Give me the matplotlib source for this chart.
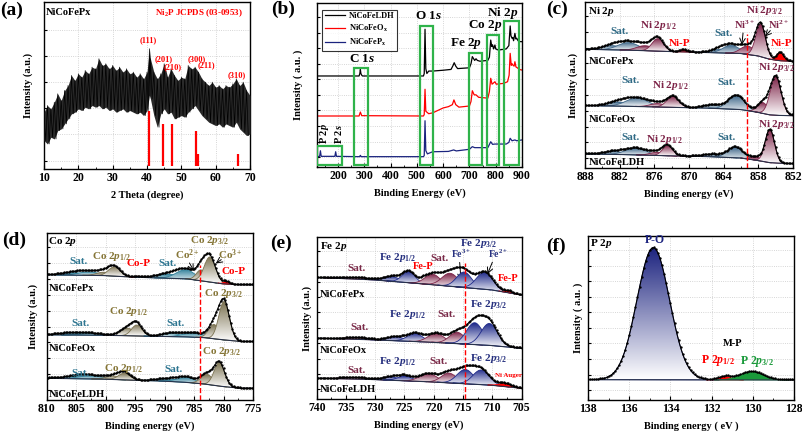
import numpy as np
import matplotlib.pyplot as plt
from matplotlib.patches import Polygon, Rectangle
from matplotlib.colors import LinearSegmentedColormap

plt.rcParams['font.family'] = ['Liberation Serif', 'DejaVu Serif']
plt.rcParams['font.weight'] = 'bold'
plt.rcParams['axes.labelweight'] = 'bold'
plt.rcParams['mathtext.fontset'] = 'custom'
plt.rcParams['mathtext.rm'] = 'Liberation Serif:bold'
plt.rcParams['mathtext.it'] = 'Liberation Serif:italic:bold'
plt.rcParams['mathtext.bf'] = 'Liberation Serif:bold'
plt.rcParams['xtick.direction'] = 'in'
plt.rcParams['ytick.direction'] = 'in'

# ---------------- (a) XRD of NiCoFePx ----------------
xrd_theta = [10, 11, 12, 13, 14, 15, 16, 17, 18, 19, 20, 21, 22, 23, 24, 25, 26, 27, 28, 29,
             30, 31, 32, 33, 34, 35, 36, 37, 38, 39, 40, 40.7, 41, 42, 43, 44, 45, 46, 47, 48, 49,
             50, 51, 52, 53, 54, 55, 56, 57, 58, 59, 60, 61, 62, 63, 64, 65, 66, 67, 68, 69, 70]
xrd_upper = [34, 38, 36, 40, 45, 41, 47, 50, 56, 53, 57, 55, 59, 57, 61, 60, 66, 62, 63, 60,
             62, 59, 61, 58, 60, 57, 58, 55, 57, 54, 58, 72, 66, 58, 54, 57, 63, 55, 60, 56, 53,
             55, 54, 62, 60, 61, 58, 54, 52, 50, 52, 49, 50, 48, 50, 49, 51, 54, 50, 52, 47, 44]
xrd_lower = [17, 15, 19, 18, 23, 24, 27, 30, 33, 34, 36, 35, 37, 36, 38, 37, 38, 36, 37, 35,
             36, 34, 35, 36, 34, 35, 34, 33, 34, 32, 35, 44, 42, 32, 25, 33, 36, 33, 34, 30, 31,
             32, 31, 34, 36, 38, 35, 32, 30, 28, 27, 26, 27, 25, 27, 26, 25, 28, 24, 22, 20, 21]
ref_pos = [40.7, 44.6, 47.3, 54.2, 54.9, 66.4]
ref_height = [33, 25, 25, 21, 7, 7]
ref_hkl = ['(111)', '(201)', '(210)', '(300)', '(211)', '(310)']

# ---------------- (b) XPS survey ----------------
ldh_E = [120, 280, 283, 285, 287, 290, 293, 525, 528, 531, 534, 538, 545, 560, 600, 630, 638, 642,
         648, 655, 700, 706, 711, 716, 720, 725, 730, 740, 770, 776, 781, 785, 788, 792, 797, 800,
         810, 840, 850, 855, 858, 862, 865, 868, 873, 877, 880, 885, 890, 900]
ldh_y = [55.5, 55.5, 57, 59.5, 57, 56, 55.5, 55.5, 57, 84, 60, 57, 58.5, 58.5, 59, 59.5, 62, 63.6,
         61.5, 60, 60.5, 63, 67.3, 66, 65, 66, 65, 64.5, 65, 67, 77.4, 73.5, 74.5, 72, 74.4, 72,
         71.3, 72, 74, 86, 80, 78.5, 79, 77, 81.5, 78, 78.5, 77, 76.5, 76.4]
ox_E = [120, 280, 285, 290, 525, 528, 531, 534, 545, 560, 600, 620, 635, 641, 648, 660, 700, 706,
        711, 718, 725, 735, 770, 776, 781, 786, 790, 797, 802, 830, 845, 851, 855, 859, 862, 866,
        870, 873, 877, 882, 890, 900]
ox_y = [31.1, 31.1, 33.5, 31.3, 31.1, 32, 47.4, 34, 32.5, 33, 36, 36.8, 38, 40.9, 38, 36.5, 37.2,
        40, 46.5, 44, 44, 42.5, 42, 46, 54.1, 50.5, 51, 52, 50.5, 51, 52, 56, 69.3, 62, 63, 62,
        61.5, 64.2, 61, 60.5, 59.5, 59.1]
px_E = [120, 130, 133, 136, 188, 191, 194, 282, 285, 288, 525, 528, 531, 534, 540, 560, 620, 640,
        650, 700, 711, 720, 770, 781, 788, 797, 840, 850, 855, 862, 873, 880, 900]
px_y = [6.3, 6.5, 9.9, 6.5, 6.5, 9.3, 6.5, 6.3, 7.1, 6.3, 6.3, 7, 28.2, 10, 8, 9.3, 9.5, 10.4,
        9.8, 10.8, 12.4, 11.8, 11.8, 15.4, 13.8, 14, 14, 15, 17.5, 16, 16.5, 16, 16.5]
survey_regions = ['P', 'C', 'O', 'Fe', 'Co', 'Ni']
region_E0 = [120, 261, 512, 698, 765, 831]
region_E1 = [217, 314, 562, 749, 812, 888]
region_top = [13, 60.5, 86, 69.7, 80.5, 89.2]

# ---------------- (c) Ni 2p : (center eV, height, sigma, kind) ----------------
ni_bg_E = [888, 880, 872, 866, 861, 858, 856, 854, 852]
ni_px_bg = [71.5, 71, 70, 69.5, 69, 67.5, 65.5, 64.5, 64.2]
ni_ox_bg = [37.6, 37.2, 36.5, 36, 35.2, 33.5, 32, 31.6, 31.5]
ni_ldh_bg = [8.5, 8.0, 7.2, 6.8, 6.0, 4.5, 3.2, 2.8, 2.6]
ni_px = [(883.3, 2.5, 1.6, 'sat'), (880.5, 4.5, 1.8, 'sat'), (877.6, 3.0, 1.4, 'main'),
         (875.4, 7.5, 1.0, 'main'), (871.0, 1.2, 0.6, 'p'), (864.8, 2.0, 1.3, 'sat'),
         (862.7, 4.8, 1.4, 'sat'), (859.8, 5.0, 1.2, 'main'), (857.6, 19.5, 0.85, 'main'),
         (854.2, 5.0, 0.6, 'p')]
ni_ox = [(882.3, 2.5, 1.7, 'sat'), (879.0, 5.0, 1.9, 'sat'), (875.4, 2.0, 1.3, 'main'),
         (872.8, 6.5, 1.05, 'main'), (866.0, 2.0, 1.5, 'sat'), (861.8, 8.5, 1.4, 'sat'),
         (857.2, 6.5, 0.9, 'main'), (855.0, 23.5, 0.95, 'main')]
ni_ldh = [(883.0, 1.8, 1.6, 'sat'), (879.2, 4.0, 1.8, 'sat'), (875.6, 1.8, 1.2, 'main'),
          (873.7, 6.0, 0.9, 'main'), (866.0, 1.5, 1.5, 'sat'), (862.0, 6.5, 1.3, 'sat'),
          (858.4, 2.0, 0.9, 'main'), (856.0, 20.0, 0.8, 'main')]

# ---------------- (d) Co 2p ----------------
co_bg_E = [810, 800, 795, 790, 786, 783, 780, 777, 775]
co_px_bg = [75, 74.5, 73.5, 73, 72.5, 71, 69.5, 69, 69]
co_ox_bg = [39, 38.8, 38.4, 38, 37.8, 37.3, 36, 35, 35]
co_ldh_bg = [13, 12.5, 11.8, 11.3, 10.5, 9.5, 8, 7, 7]
co_px = [(805.5, 1.5, 1.8, 'sat'), (802.8, 2.0, 1.8, 'sat'), (800.3, 2.0, 1.2, 'main'),
         (798.5, 5.5, 1.0, 'main'), (794.5, 0.6, 0.5, 'p'), (789.5, 2.5, 1.8, 'sat'),
         (786.4, 5.5, 1.6, 'sat'), (783.8, 6.5, 0.8, 'main'), (782.3, 15.0, 0.95, 'main'),
         (779.5, 1.5, 0.5, 'p')]
co_ox = [(806.0, 1.2, 2.0, 'sat'), (802.5, 1.0, 1.8, 'sat'), (796.3, 4.5, 1.2, 'main'),
         (794.7, 6.5, 0.9, 'main'), (789.0, 2.0, 1.5, 'sat'), (785.0, 2.5, 1.8, 'sat'),
         (781.6, 8.5, 0.9, 'main'), (779.9, 23.0, 0.9, 'main')]
co_ldh = [(805.0, 1.3, 2.0, 'sat'), (802.5, 1.8, 2.0, 'sat'), (798.5, 2.0, 1.3, 'main'),
          (796.8, 4.0, 1.0, 'main'), (789.5, 1.5, 1.8, 'sat'), (786.3, 3.0, 1.5, 'sat'),
          (782.8, 6.0, 1.0, 'main'), (780.7, 14.0, 0.9, 'main')]

# ---------------- (e) Fe 2p ----------------
fe_bg_E = [740, 730, 720, 710, 705]
fe_px_bg = [75, 73.5, 70.5, 67.3, 64.2]
fe_ox_bg = [37.5, 36.5, 35, 33, 31.3]
fe_ldh_bg = [12.8, 12, 10.5, 8.5, 6.6]
fe_px = [(733.0, 1.0, 2.0, 'sat'), (727.2, 3.0, 1.3, 'fe'), (724.3, 7.0, 1.1, 'fe'),
         (721.8, 1.2, 0.5, 'p'), (720.2, 6.5, 1.3, 'sat'), (717.2, 8.0, 1.4, 'sat'),
         (714.8, 9.5, 1.3, 'fe'), (711.3, 10.5, 1.4, 'fe'), (707.2, 1.2, 0.6, 'p')]
fe_ox = [(733.0, 1.0, 2.0, 'sat'), (726.5, 2.5, 1.4, 'fe'), (723.2, 5.0, 1.3, 'fe'),
         (719.6, 5.5, 1.4, 'sat'), (716.0, 7.0, 1.3, 'sat'), (713.0, 13.5, 1.4, 'fe'),
         (710.5, 13.5, 1.4, 'fe')]
fe_ldh = [(733.5, 1.0, 2.0, 'sat'), (727.3, 2.0, 1.3, 'fe'), (724.9, 3.0, 1.2, 'fe'),
          (720.9, 5.0, 1.5, 'sat'), (717.4, 6.0, 1.3, 'sat'), (714.6, 8.8, 1.4, 'fe'),
          (711.9, 9.0, 1.4, 'fe'), (707.8, 2.0, 1.0, 'p')]

# ---------------- (f) P 2p ----------------
p_bg_E = [138, 128]
p_bg = [12.4, 12.2]
p_comps = [(134.83, 80.5, 0.79, 'po'), (131.35, 2.0, 0.3, 'p12'), (130.05, 5.1, 0.55, 'p32')]


def rect(l, t, r, b):
    return [l / 802, 1 - b / 436, (r - l) / 802, (b - t) / 436]


def fill_peak(ax, E, base, g, color, z, gradient=True):
    m = g > 0.02
    if m.sum() < 3:
        return
    x, b, t = E[m], base[m], base[m] + g[m]
    verts = np.vstack([np.column_stack([x, t]), np.column_stack([x[::-1], b[::-1]])])
    if gradient:
        poly = Polygon(verts, closed=True, fc='none', ec=color, lw=0.6, zorder=z + 0.5)
        ax.add_patch(poly)
        cmap = LinearSegmentedColormap.from_list('g', ['white', color])
        im = ax.imshow(np.linspace(0, 1, 200).reshape(-1, 1), cmap=cmap, origin='lower',
                       aspect='auto', interpolation='bilinear', zorder=z,
                       extent=[x.min(), x.max(), b.min(), t.max()])
        im.set_clip_path(poly)
    else:
        ax.add_patch(Polygon(verts, closed=True, fc=color, ec=color, lw=0.6, zorder=z))


def draw_xps(ax, E, bg_E, bg_y, comps, colors, solid=('p', 'p12', 'p32')):
    order = np.argsort(bg_E)
    bg = np.interp(E, np.array(bg_E)[order], np.array(bg_y)[order])
    total = bg.copy()
    for i, (c, h, s, kind) in enumerate(comps):
        g = h * np.exp(-(E - c) ** 2 / (2 * s ** 2))
        total += g
        fill_peak(ax, E, bg, g, colors[kind], 3 + i, gradient=kind not in solid)
    ax.plot(E, bg, color='#28324a', lw=0.8, zorder=30)
    ax.plot(E, total, color='k', lw=0.8, zorder=31)
    ax.plot(E[::5], total[::5] + 0.4, 'k.', ms=1.4, zorder=32)


def style(ax, xlim, xmaj, xmin, ylab, lpad, xlab='Binding energy (eV)'):
    ax.set_xlim(*xlim)
    ax.set_ylim(0, 100)
    ax.set_xticks(xmaj)
    ax.set_xticks(xmin, minor=True)
    ax.set_yticks(np.arange(6, 100, 9.5))
    ax.tick_params(axis='x', labelsize=8.5, pad=2, length=3)
    ax.tick_params(axis='x', which='minor', length=1.8)
    ax.tick_params(axis='y', labelleft=False, length=2.5)
    ax.grid(True, color='#c9c9c9', ls=':', lw=0.6)
    ax.set_axisbelow(True)
    ax.set_xlabel(xlab, fontsize=7.5, labelpad=5)
    ax.set_ylabel(ylab, fontsize=7.5, labelpad=lpad)
    for sp in ax.spines.values():
        sp.set_linewidth(1.0)


def lab(ax, x, y, s, c='k', fs=8, ha='center'):
    ax.text(x, y, s, color=c, fontsize=fs, ha=ha, va='center', zorder=40)


fig = plt.figure(figsize=(8.02, 4.36), dpi=100)

# ---- (a)
ax = fig.add_axes(rect(44, 2, 250, 169))
ax.fill_between(xrd_theta, xrd_lower, xrd_upper, color='#2a2a2a', lw=0, zorder=3)
# noisy trace: alternate between the upper and lower readings
zig_x = np.ravel(np.column_stack([xrd_theta[:-1], np.array(xrd_theta[:-1]) + 0.5 * np.diff(xrd_theta)]))
zig_y = np.ravel(np.column_stack([xrd_upper[:-1], xrd_lower[:-1]]))
ax.plot(zig_x, zig_y, color='k', lw=0.5, zorder=4)
ax.vlines(ref_pos, 2, np.array(ref_height) + 2, color='red', lw=1.6, zorder=5)
hkl_xy = [(40.5, 77), (44.8, 66), (47.6, 61), (54.4, 66), (57.2, 62), (66.0, 56)]
for (x, y), s in zip(hkl_xy, ref_hkl):
    lab(ax, x, y, s, 'red', 6)
lab(ax, 10.6, 93.5, 'NiCoFePx', fs=7.5, ha='left')
lab(ax, 55.1, 93.5, r'Ni$_2$P JCPDS (03-0953)', 'red', 6.5)
style(ax, (10, 70), range(10, 71, 10), range(15, 70, 10), 'Intensity (a.u.)', 8, '2 Theta (degree)')
ax.set_yticks([5, 20.7, 36.3, 52, 67.6, 83.3])

# ---- (b)
ax = fig.add_axes(rect(317, 3, 522, 167))
ax.plot(ldh_E, ldh_y, color='k', lw=0.9, label='NiCoFeLDH')
ax.plot(ox_E, ox_y, color='red', lw=0.9, label=r'NiCoFeO$_\mathrm{x}$')
ax.plot(px_E, px_y, color='#1a237e', lw=0.9, label=r'NiCoFeP$_\mathrm{x}$')
for e0, e1, top in zip(region_E0, region_E1, region_top):
    ax.add_patch(Rectangle((e0, 1.5), e1 - e0, top - 1.5, fill=False, ec='#2fb34a', lw=1.6, zorder=5))
lab(ax, 290, 65.7, r'C 1$\mathit{s}$', fs=9.5)
lab(ax, 543, 92.3, r'O 1$\mathit{s}$', fs=9.5)
lab(ax, 689, 75.4, r'Fe 2$\mathit{p}$', fs=9.5)
lab(ax, 759, 86, r'Co 2$\mathit{p}$', fs=9.5)
lab(ax, 828, 93.7, r'Ni 2$\mathit{p}$', fs=9.5)
ax.text(147, 13.8, r'P 2$\mathit{p}$', rotation=90, fontsize=7.5, ha='center', va='bottom')
ax.text(203, 13.8, r'P 2$\mathit{s}$', rotation=90, fontsize=7.5, ha='center', va='bottom')
leg = ax.legend(loc='upper left', bbox_to_anchor=(0.005, 0.985), fontsize=6, frameon=True,
                fancybox=False, edgecolor='k', handlelength=2.4, labelspacing=0.35,
                borderpad=0.3, handletextpad=0.5)
leg.get_frame().set_linewidth(0.8)
style(ax, (120, 900), range(200, 901, 100), range(150, 900, 100), 'Intensity ( a.u. )', 10,
      'Binding Energy (eV)')

# ---- (c)
ax = fig.add_axes(rect(585, 2, 793, 168))
E = np.linspace(852, 888, 721)
ni_col = {'main': '#7d2448', 'sat': '#3d6688', 'p': '#ff0000'}
draw_xps(ax, E, ni_bg_E, ni_px_bg, ni_px, ni_col)
draw_xps(ax, E, ni_bg_E, ni_ox_bg, ni_ox, ni_col)
draw_xps(ax, E, ni_bg_E, ni_ldh_bg, ni_ldh, ni_col)
ax.plot([860, 860], [0, 81], color='red', ls='--', lw=1.0, zorder=35)
mr, sb = '#7d2448', '#2f6a85'
p12 = r'Ni 2$\mathit{p}_{\mathrm{1/2}}$'
p32 = r'Ni 2$\mathit{p}_{\mathrm{3/2}}$'
lab(ax, 887.4, 94, r'Ni 2$\mathit{p}$', ha='left')
lab(ax, 882, 82, 'Sat.', sb); lab(ax, 875.3, 86, p12, mr); lab(ax, 871.6, 75, 'Ni-P', 'red')
lab(ax, 864.1, 81, 'Sat.', sb); lab(ax, 856.9, 95, p32, mr)
lab(ax, 860.4, 86, r'Ni$^{3+}$', mr, 7.5); lab(ax, 854.6, 86, r'Ni$^{2+}$', mr, 7.5)
lab(ax, 854.0, 75, 'Ni-P', 'red')
ax.annotate('', xy=(860.9, 72.5), xytext=(860.6, 83), arrowprops=dict(arrowstyle='->', lw=0.7))
ax.annotate('', xy=(857.2, 78), xytext=(855.6, 84), arrowprops=dict(arrowstyle='->', lw=0.7))
lab(ax, 887.4, 64.4, 'NiCoFePx', fs=7.5, ha='left')
lab(ax, 880.2, 52.7, 'Sat.', sb); lab(ax, 873.3, 49.7, p12, mr); lab(ax, 863.5, 51.7, 'Sat.', sb)
lab(ax, 854.9, 60.8, p32, mr)
lab(ax, 887.4, 29.5, 'NiCoFeOx', fs=7.5, ha='left')
lab(ax, 880.2, 18.4, 'Sat.', sb); lab(ax, 874.2, 17.4, p12, mr); lab(ax, 863.5, 18.4, 'Sat.', sb)
lab(ax, 854.9, 26.5, p32, mr)
ax.text(887.4, 0.8, 'NiCoFeLDH', fontsize=7.5, ha='left', va='bottom', zorder=40)
style(ax, (888, 852), range(888, 851, -6), range(885, 852, -6), 'Intensity (a.u.)', 5)

# ---- (d)
ax = fig.add_axes(rect(46.5, 233, 253, 400))
E = np.linspace(775, 810, 701)
co_col = {'main': '#7a7150', 'sat': '#2f7f99', 'p': '#ff0000'}
draw_xps(ax, E, co_bg_E, co_px_bg, co_px, co_col)
draw_xps(ax, E, co_bg_E, co_ox_bg, co_ox, co_col)
draw_xps(ax, E, co_bg_E, co_ldh_bg, co_ldh, co_col)
ax.plot([784, 784], [0, 81], color='red', ls='--', lw=1.0, zorder=35)
ol, tl = '#857536', '#2d7590'
c12 = r'Co 2$\mathit{p}_{\mathrm{1/2}}$'
c32 = r'Co 2$\mathit{p}_{\mathrm{3/2}}$'
lab(ax, 809.7, 94.8, r'Co 2$\mathit{p}$', ha='left')
lab(ax, 804.6, 82.8, 'Sat.', tl); lab(ax, 799, 85.8, c12, ol); lab(ax, 794.4, 81.9, 'Co-P', 'red')
lab(ax, 789.4, 81.9, 'Sat.', tl); lab(ax, 782.3, 95.8, c32, ol)
lab(ax, 786.2, 86.8, r'Co$^{2+}$', ol); lab(ax, 778.9, 86.8, r'Co$^{3+}$', ol)
lab(ax, 778.3, 76.8, 'Co-P', 'red')
ax.annotate('', xy=(784.8, 75.9), xytext=(786.0, 83.5), arrowprops=dict(arrowstyle='->', lw=0.7))
ax.annotate('', xy=(781.7, 80.8), xytext=(780.0, 85), arrowprops=dict(arrowstyle='->', lw=0.7))
lab(ax, 809.7, 66.9, 'NiCoFePx', fs=7.5, ha='left')
lab(ax, 780, 63.9, c32, ol); lab(ax, 796.1, 52.9, c12, ol)
lab(ax, 804.3, 45.9, 'Sat.', tl); lab(ax, 788.2, 45.9, 'Sat.', tl)
lab(ax, 809.7, 31, 'NiCoFeOx', fs=7.5, ha='left')
lab(ax, 780.3, 28.9, c32, ol); lab(ax, 797, 19, c12, ol)
lab(ax, 804.3, 16, 'Sat.', tl); lab(ax, 788.5, 18, 'Sat.', tl)
ax.text(809.7, 0.8, 'NiCoFeLDH', fontsize=7.5, ha='left', va='bottom', zorder=40)
style(ax, (810, 775), range(810, 774, -5), [807.5, 802.5, 797.5, 792.5, 787.5, 782.5, 777.5],
      'Intensity (a.u.)', 6)

# ---- (e)
ax = fig.add_axes(rect(316.7, 237, 521.5, 399))
E = np.linspace(705, 740, 701)
fe_col = {'fe': '#1f2a8a', 'sat': '#7d2448', 'p': '#ff0000'}
draw_xps(ax, E, fe_bg_E, fe_px_bg, fe_px, fe_col)
draw_xps(ax, E, fe_bg_E, fe_ox_bg, fe_ox, fe_col)
draw_xps(ax, E, fe_bg_E, fe_ldh_bg, fe_ldh, fe_col)
ax.plot([714.6, 714.6], [0, 84], color='red', ls='--', lw=1.0, zorder=35)
nv, mr = '#26307f', '#7a2a48'
f12 = r'Fe 2$\mathit{p}_{\mathrm{1/2}}$'
f32 = r'Fe 2$\mathit{p}_{\mathrm{3/2}}$'
lab(ax, 739.4, 94, r'Fe 2$\mathit{p}$', ha='left')
lab(ax, 733.2, 80.7, 'Sat.', mr); lab(ax, 726.1, 87.2, f12, nv); lab(ax, 721.8, 81.7, 'Fe-P', 'red', 7.5)
lab(ax, 719.0, 86.9, 'Sat.', mr); lab(ax, 712.4, 96.1, f32, nv)
lab(ax, 715.3, 89.5, r'Fe$^{3+}$', nv, 7); lab(ax, 709, 89.5, r'Fe$^{2+}$', nv, 7)
lab(ax, 707.3, 74.5, 'Fe-P', 'red', 7.5)
ax.annotate('', xy=(715.3, 71.4), xytext=(715.6, 86), arrowprops=dict(arrowstyle='->', lw=0.7))
ax.annotate('', xy=(711.0, 75.5), xytext=(709.8, 86), arrowprops=dict(arrowstyle='->', lw=0.7))
lab(ax, 739.4, 64.2, 'NiCoFePx', fs=7.5, ha='left')
lab(ax, 710.7, 58.5, f32, nv); lab(ax, 724.4, 51.9, f12, nv)
lab(ax, 717.8, 51.9, 'Sat.', mr); lab(ax, 732.6, 44, 'Sat.', mr)
lab(ax, 739.4, 30.2, 'NiCoFeOx', fs=7.5, ha='left')
lab(ax, 710.7, 25.1, f32, nv); lab(ax, 726.1, 23, f12, nv)
lab(ax, 719.2, 23, 'Sat.', mr); lab(ax, 733.2, 17.9, 'Sat.', mr)
lab(ax, 707.3, 14.8, 'Ni Auger', 'red', 5)
lab(ax, 739.4, 5.6, 'NiCoFeLDH', fs=7.5, ha='left')
style(ax, (740, 705), range(740, 704, -5), [737.5, 732.5, 727.5, 722.5, 717.5, 712.5, 707.5],
      'Intensity (a.u.)', 3.5)

# ---- (f)
ax = fig.add_axes(rect(588, 236, 794, 400))
E = np.linspace(128, 138, 501)
p_col = {'po': '#1c237f', 'p12': '#ff0000', 'p32': '#1a9a3a'}
draw_xps(ax, E, p_bg_E, p_bg, p_comps, p_col)
lab(ax, 137.9, 95.5, r'P 2$\mathit{p}$', ha='left')
lab(ax, 134.75, 97.3, 'P-O', '#1c237f', 8.5)
lab(ax, 131.0, 34.6, 'M-P', fs=7.5)
lab(ax, 131.7, 23.8, r'P 2$\mathit{p}_{\mathrm{1/2}}$', 'red', 8.5)
lab(ax, 129.8, 23.4, r'P 2$\mathit{p}_{\mathrm{3/2}}$', '#1a9a3a', 8.5)
style(ax, (138, 128), range(138, 127, -2), range(137, 128, -2), 'Intensity ( a.u. )', 3.5,
      'Binding energy ( eV )')

for s, x, y in [('(a)', 12, 10), ('(b)', 283, 9), ('(c)', 557, 9),
                ('(d)', 14, 240), ('(e)', 281, 243), ('(f)', 556, 246)]:
    fig.text(x / 802, 1 - y / 436, s, fontsize=14, fontweight='bold', ha='center', va='center')

fig.savefig('out.png', dpi=100)
